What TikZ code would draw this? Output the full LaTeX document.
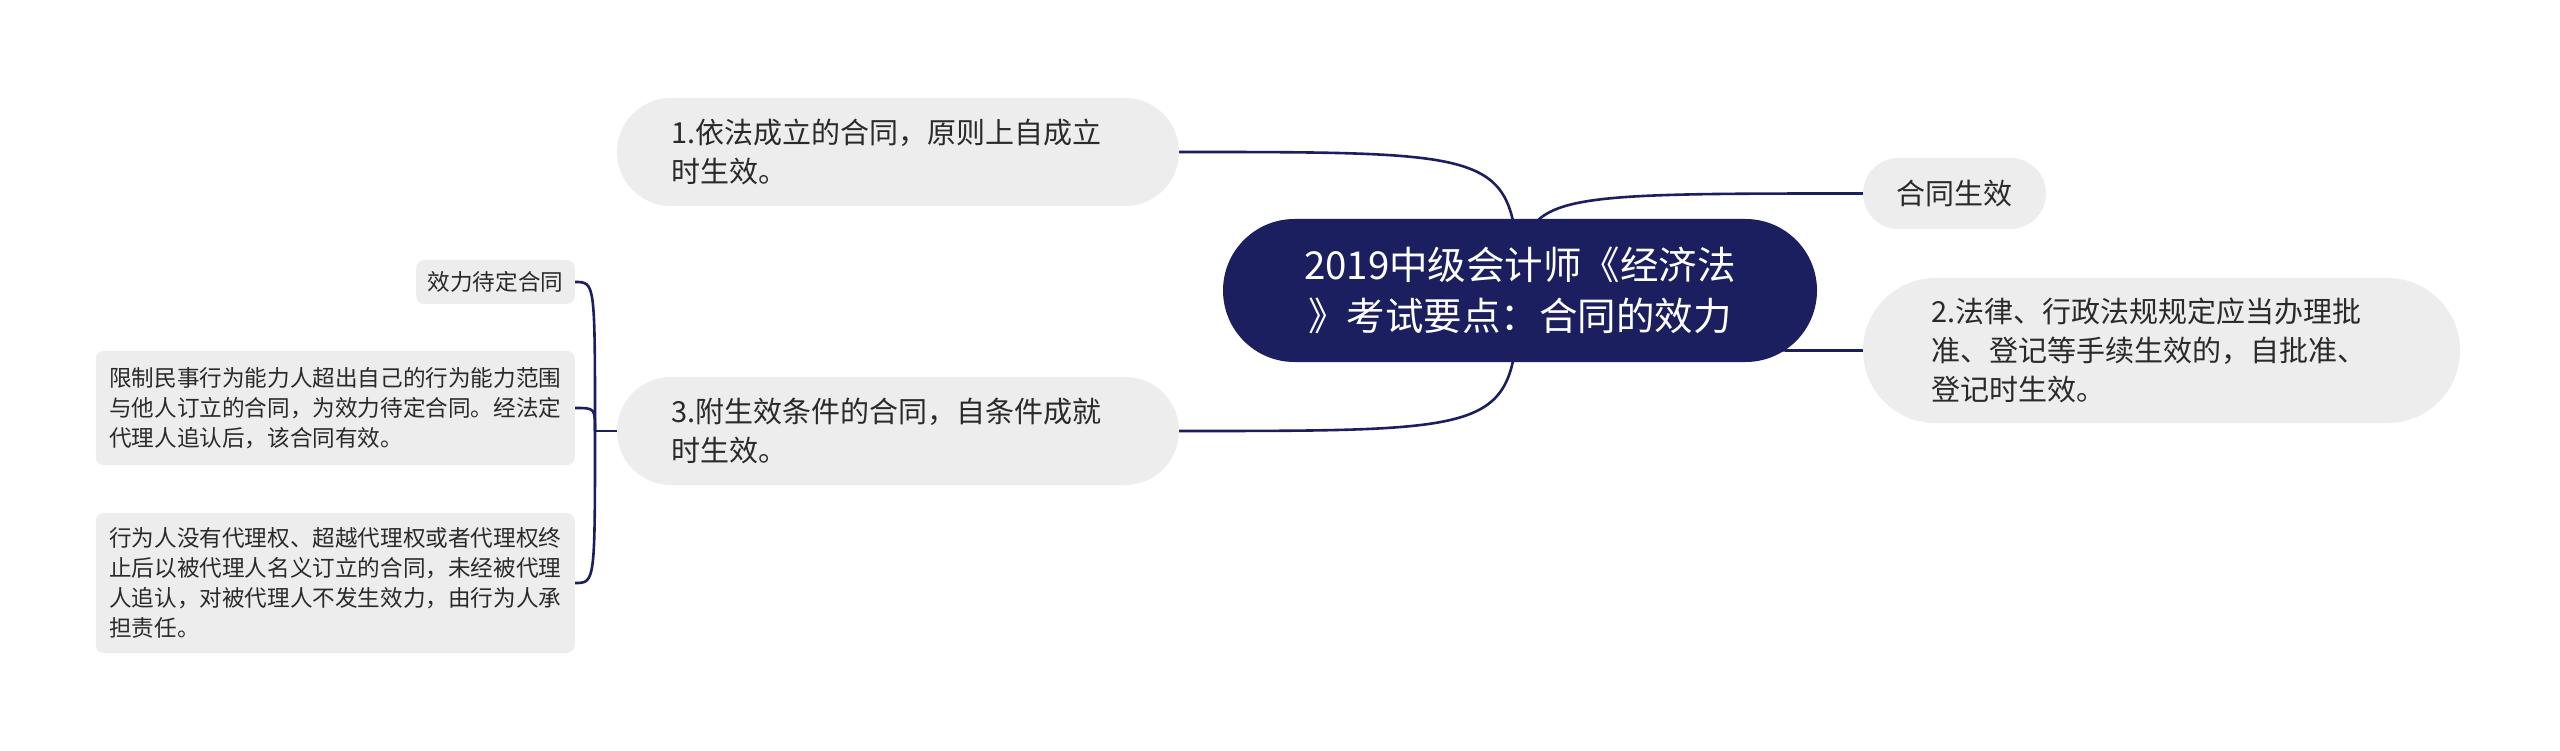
\documentclass[tikz,border=0pt]{standalone}
\usepackage{fontspec}
\setmainfont{Noto Sans CJK SC}
\usetikzlibrary{backgrounds}
\definecolor{navy}{HTML}{1B1F5F}
\definecolor{boxgray}{HTML}{EDEDED}
\definecolor{txt}{HTML}{2A2A2A}
\begin{document}
\begin{tikzpicture}[x=1pt,y=-1pt,
  rootbox/.style={fill=navy, text=white, rounded corners=71.5pt, minimum width=594pt, minimum height=143pt, align=center, font=\fontsize{38.5}{51}\selectfont, inner sep=0pt},
  mainbox/.style={fill=boxgray, text=txt, align=left, font=\fontsize{29}{39}\selectfont, inner ysep=0pt},
  leafbox/.style={fill=boxgray, text=txt, rounded corners=8pt, align=left, font=\fontsize{22.6}{30}\selectfont, inner ysep=0pt},
  edge/.style={draw=navy, line width=2.6pt}]
\useasboundingbox (0,0) rectangle (2560,751);
\node[rootbox] (root) at (1520,290.5) {2019中级会计师《经济法\\》考试要点：合同的效力};
\node[mainbox, text width=454pt, inner xsep=54pt, minimum height=108pt, rounded corners=54pt] (n1) at (898,152) {1.依法成立的合同，原则上自成立\\时生效。};
\node[mainbox, text width=454pt, inner xsep=54pt, minimum height=108pt, rounded corners=54pt] (n3) at (898,431) {3.附生效条件的合同，自条件成就\\时生效。};
\node[mainbox, inner xsep=33.5pt, minimum height=71pt, rounded corners=35.5pt] (ht) at (1954.5,193.5) {合同生效};
\node[mainbox, text width=460pt, inner xsep=68.5pt, minimum height=145pt, rounded corners=72.5pt] (n2) at (2161.5,350.5) {2.法律、行政法规规定应当办理批\\准、登记等手续生效的，自批准、\\登记时生效。};
\node[leafbox, inner xsep=11.5pt, minimum height=44pt, anchor=east] (l1) at (575,282) {效力待定合同};
\node[leafbox, text width=452pt, inner xsep=13.5pt, minimum height=114pt, anchor=east] (l2) at (575,408) {限制民事行为能力人超出自己的行为能力范围\\与他人订立的合同，为效力待定合同。经法定\\代理人追认后，该合同有效。};
\node[leafbox, text width=452pt, inner xsep=13.5pt, minimum height=140pt, anchor=east] (l3) at (575,583) {行为人没有代理权、超越代理权或者代理权终\\止后以被代理人名义订立的合同，未经被代理\\人追认，对被代理人不发生效力，由行为人承\\担责任。};
\coordinate (J) at (595,431);
\coordinate (c1) at (595,282);
\coordinate (c2) at (595,408);
\coordinate (c3) at (595,583);
\begin{scope}[on background layer]
\fill[white] (0,0) rectangle (2560,751);
\draw[edge] (root.center) .. controls (1512,152) .. (n1.east);
\draw[edge] (root.center) .. controls (1512,431) .. (n3.east);
\draw[edge] (root.center) .. controls (1525,193.5) .. (ht.west);
\draw[edge] (root.center) .. controls (1560,350.5) .. (n2.west);
\draw[edge] (n3.west) -- (J);
\draw[edge] (J) .. controls (c1) .. (l1.east);
\draw[edge] (J) .. controls (c2) .. (l2.east);
\draw[edge] (J) .. controls (c3) .. (l3.east);
\end{scope}
\end{tikzpicture}
\end{document}
